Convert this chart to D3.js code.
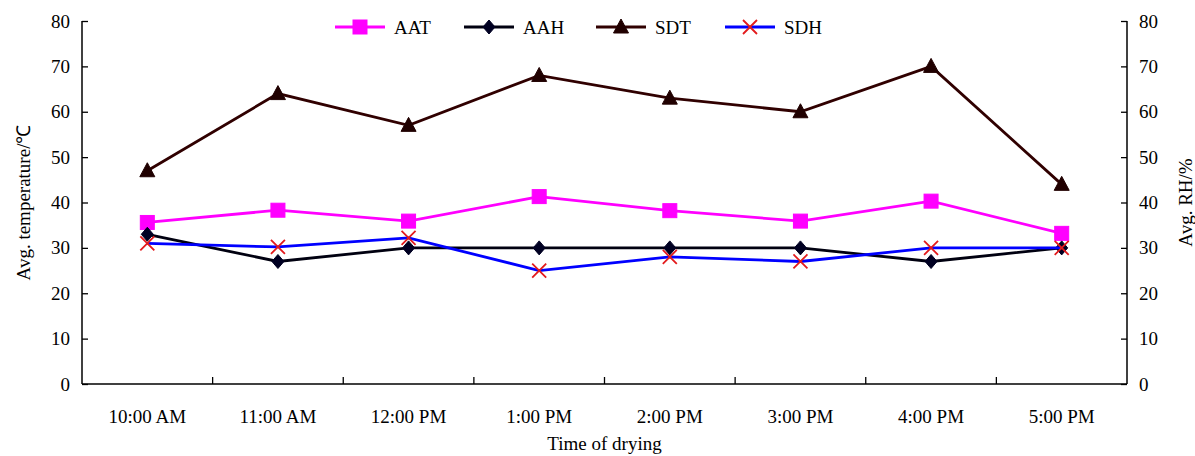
<!DOCTYPE html>
<html><head><meta charset="utf-8">
<script src="https://cdn.jsdelivr.net/npm/d3@7"></script>
<style>body{margin:0;background:#fff}svg text{font-family:"Liberation Serif","Times New Roman",serif !important}</style>
</head><body><svg id="c" width="1195" height="456"></svg>
<script>
const categories=["10:00 AM","11:00 AM","12:00 PM","1:00 PM","2:00 PM","3:00 PM","4:00 PM","5:00 PM"];
const AAT=[35.6,38.3,35.9,41.3,38.2,35.9,40.3,33.2];
const AAH=[33,27,30,30,30,30,27,30];
const SDT=[47,64,57,68,63,60,70,44];
const SDH=[31,30.2,32.2,25,28,27,30,30];
const yTicks=[0,10,20,30,40,50,60,70,80];

const FONT='"Liberation Serif","Times New Roman",serif';
const svg=d3.select("#c");
const L=82,R=1127,T=21,B=384;
const x=d3.scaleBand().domain(categories).range([L,R]);
const y=d3.scaleLinear().domain([0,80]).range([B,T]);
const yR=d3.scaleLinear().domain([0,80]).range([B,T]);

const gl=svg.append("g").attr("transform",`translate(${L},0)`).call(d3.axisLeft(y).tickValues(yTicks).tickSize(-6).tickPadding(12));
const gr=svg.append("g").attr("transform",`translate(${R},0)`).call(d3.axisRight(yR).tickValues(yTicks).tickSize(-6).tickPadding(12));
const gb=svg.append("g").attr("transform",`translate(0,${B})`).call(d3.axisBottom(x).tickSize(0).tickPadding(26));
[gl,gr,gb].forEach(g=>{g.attr("font-family",FONT).attr("font-size",19);
  g.select(".domain").attr("stroke","#000").attr("stroke-width",1.5);
  g.selectAll(".tick line").attr("stroke","#000").attr("stroke-width",1.3);
  g.selectAll("text").attr("fill","#000").style("font-family",FONT).style("font-size","19px");});
gl.select(".domain").attr("d",`M0,${T}V${B}`);
gr.select(".domain").attr("d",`M0,${T}V${B}`);
gb.select(".domain").attr("d",`M${L},0H${R}`);
svg.append("g").selectAll("line").data(categories.slice(1)).join("line")
  .attr("x1",d=>x(d)).attr("x2",d=>x(d)).attr("y1",B).attr("y2",B-7)
  .attr("stroke","#000").attr("stroke-width",1.3);

const T_=(sel)=>sel.style("font-family",FONT).style("font-size","19px").attr("fill","#000");
T_(svg.append("text").attr("transform",`translate(30,${(T+B)/2}) rotate(-90)`).attr("text-anchor","middle").text("Avg. temperature/℃"));
T_(svg.append("text").attr("transform",`translate(1192,${(T+B)/2}) rotate(-90)`).attr("text-anchor","middle").text("Avg. RH/%"));
T_(svg.append("text").attr("x",(L+R)/2).attr("y",450).attr("text-anchor","middle").text("Time of drying"));

const cx=d=>x(d)+x.bandwidth()/2;
const series=[
 {name:"AAT",vals:AAT,color:"#ff00ff",mk:"square",mfill:"#ff00ff",mstroke:"#ff00ff",w:2.8},
 {name:"AAH",vals:AAH,color:"#000010",mk:"diamond",mfill:"#000022",mstroke:"#000022",w:2.8},
 {name:"SDT",vals:SDT,color:"#300000",mk:"triangle",mfill:"#200000",mstroke:"#200000",w:2.8},
 {name:"SDH",vals:SDH,color:"#0000ff",mk:"x",mfill:"none",mstroke:"#e31a1c",w:2.8}
];
function marker(g,type,px,py){
  if(type==="square") g.append("rect").attr("x",px-7).attr("y",py-7).attr("width",14).attr("height",14);
  else if(type==="diamond") g.append("path").attr("d",`M${px},${py-7}L${px+6},${py}L${px},${py+7}L${px-6},${py}Z`);
  else if(type==="triangle") g.append("path").attr("d",`M${px},${py-8}L${px+7.5},${py+6}L${px-7.5},${py+6}Z`);
  else g.append("path").attr("d",`M${px-7},${py-7}L${px+7},${py+7}M${px+7},${py-7}L${px-7},${py+7}`).attr("stroke-width",1.8);
}
const line=d3.line();
series.forEach(s=>{
  const pts=categories.map((c,i)=>[cx(c),y(s.vals[i])]);
  svg.append("path").attr("d",line(pts)).attr("fill","none").attr("stroke",s.color).attr("stroke-width",s.w);
  const g=svg.append("g").attr("fill",s.mfill).attr("stroke",s.mstroke);
  pts.forEach(p=>marker(g,s.mk,p[0],p[1]));
});
const legX=[335,464,596,725];
series.forEach((s,i)=>{
  const lx=legX[i],ly=27;
  svg.append("line").attr("x1",lx).attr("x2",lx+50).attr("y1",ly).attr("y2",ly).attr("stroke",s.color).attr("stroke-width",s.w);
  const g=svg.append("g").attr("fill",s.mfill).attr("stroke",s.mstroke);
  marker(g,s.mk,lx+25,ly);
  T_(svg.append("text").attr("x",lx+59).attr("y",ly+7).text(s.name));
});
</script></body></html>
